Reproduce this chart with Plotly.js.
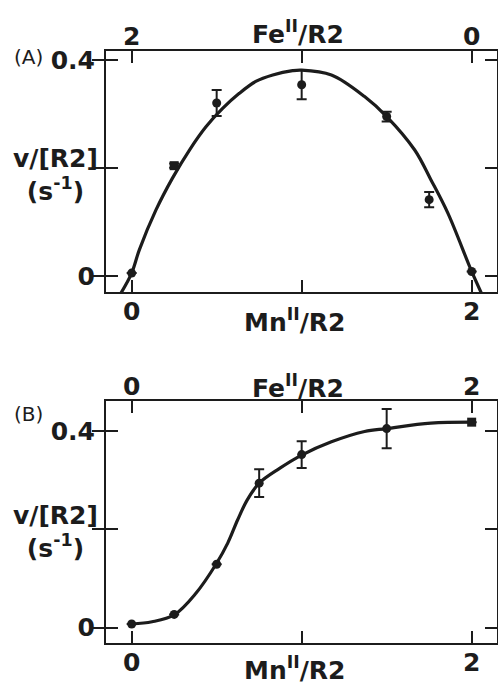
<!DOCTYPE html>
<html>
<head>
<meta charset="utf-8">
<script src="https://cdn.plot.ly/plotly-3.0.1.min.js"></script>
<style>
  body { margin: 0; background: #fff; }
  #chart { width: 498px; height: 684px; }
</style>
</head>
<body>
<div id="chart"></div>
<script>
// Panel A: measured points
const mnA = [0, 0.25, 0.5, 1.0, 1.5, 1.75, 2.0];
const vA = [0.005, 0.204, 0.32, 0.354, 0.295, 0.141, 0.008];
const errA = [0, 0.004, 0.024, 0.027, 0.009, 0.014, 0];
const symA = ['circle', 'square', 'circle', 'circle', 'circle', 'circle', 'circle'];

// Panel A: fitted curve
const fitXA = [-0.063, 0, 0.045, 0.143, 0.24, 0.34, 0.437, 0.535, 0.633, 0.73, 0.83, 0.947, 1.0,
  1.175, 1.37, 1.5, 1.665, 1.76, 1.86, 2.0, 2.057];
const fitYA = [-0.032, 0.005, 0.048, 0.122, 0.181, 0.233, 0.276, 0.31, 0.338, 0.36, 0.372, 0.38, 0.381,
  0.372, 0.332, 0.295, 0.233, 0.178, 0.116, 0.008, -0.032];

// Panel B: measured points
const mnB = [0, 0.25, 0.5, 0.75, 1.0, 1.5, 2.0];
const vB = [0.0075, 0.027, 0.129, 0.294, 0.352, 0.405, 0.418];
const errB = [0, 0, 0, 0.028, 0.027, 0.04, 0];
const symB = ['circle', 'circle', 'circle', 'circle', 'circle', 'circle', 'square'];

// Panel B: fitted curve
const fitXB = [0, 0.12, 0.25, 0.378, 0.496, 0.565, 0.623, 0.68, 0.75, 0.87, 1.0, 1.175, 1.37, 1.5, 1.76, 2.0];
const fitYB = [0.0075, 0.012, 0.026, 0.07, 0.129, 0.172, 0.219, 0.26, 0.294, 0.324, 0.351, 0.378, 0.399, 0.405, 0.416, 0.418];

// tick labels
const yTicks = [0, 0.2, 0.4];
const yTickText = ['0', '', '0.4'];
const xTicks = [0, 1, 2];
const xTickText = ['0', '', '2'];
const topTicks = [0, 2];
const topTickText = ['0', '2'];

const ink = '#1c1c1c';
const bold = { family: 'DejaVu Sans, Arial, sans-serif', size: 25, color: ink, weight: 'bold' };

const curve = (xs, ys, xa, ya) => ({
  x: xs, y: ys, xaxis: xa, yaxis: ya,
  type: 'scatter', mode: 'lines',
  line: { color: ink, width: 3.2, shape: 'spline', smoothing: 1 },
  hoverinfo: 'skip'
});
const points = (xs, ys, errs, syms, xa, ya) => ({
  x: xs, y: ys, xaxis: xa, yaxis: ya,
  type: 'scatter', mode: 'markers',
  marker: { color: ink, size: 9, symbol: syms },
  error_y: { type: 'data', array: errs, color: ink, thickness: 2, width: 5 },
  cliponaxis: false
});
// empty trace so the top (Fe) axis gets drawn
const topHolder = (xa, ya) => ({
  x: topTicks, y: [null, null], xaxis: xa, yaxis: ya,
  type: 'scatter', mode: 'markers', hoverinfo: 'skip'
});

const xRange = [-0.151, 2.149];

const bottomAxis = (yref) => ({
  anchor: yref, domain: [0, 1], range: xRange,
  tickvals: xTicks, ticktext: xTickText,
  ticks: 'inside', ticklen: 12, tickwidth: 2, tickcolor: ink,
  showline: true, linewidth: 2, linecolor: ink, mirror: 'allticks',
  showgrid: false, zeroline: false, tickfont: bold, ticklabelstandoff: -4
});
const leftAxis = (xref, dom, rng) => ({
  anchor: xref, domain: dom, range: rng,
  tickvals: yTicks, ticktext: yTickText,
  ticks: 'inside', ticklen: 12, tickwidth: 2, tickcolor: ink,
  showline: true, linewidth: 2, linecolor: ink, mirror: 'allticks',
  showgrid: false, zeroline: false, tickfont: bold, ticklabelstandoff: 4
});
const topAxis = (over, yref, rng) => ({
  overlaying: over, anchor: yref, side: 'top', range: rng,
  tickvals: topTicks, ticktext: topTickText,
  ticks: '', showline: false, showgrid: false, zeroline: false,
  tickfont: bold, ticklabelstandoff: 0
});

const ann = (text, x, y, size, weight) => ({
  text: text, xref: 'paper', yref: 'paper', x: x, y: y,
  xanchor: 'center', yanchor: 'middle', showarrow: false,
  font: { family: 'DejaVu Sans, Arial, sans-serif', size: size, color: ink, weight: weight }
});

const layout = {
  width: 498, height: 684,
  margin: { l: 106, r: 1, t: 0, b: 0 },
  paper_bgcolor: '#fff', plot_bgcolor: '#fff',
  showlegend: false,
  xaxis: bottomAxis('y'),
  yaxis: leftAxis('x', [0.5731, 0.9259], [-0.030, 0.417]),
  xaxis2: bottomAxis('y2'),
  yaxis2: leftAxis('x2', [0.0604, 0.4137], [-0.0305, 0.461]),
  xaxis3: topAxis('x', 'y', [2 - xRange[0], 2 - xRange[1]]),
  xaxis4: topAxis('x2', 'y2', xRange),
  annotations: [
    ann('(A)', -0.198, 0.9167, 20, 'normal'),
    ann('(B)', -0.198, 0.3947, 20, 'normal'),
    ann('v/[R2]<br>(s<sup>-1</sup>)', -0.128, 0.7442, 25, 'bold'),
    ann('v/[R2]<br>(s<sup>-1</sup>)', -0.128, 0.2222, 25, 'bold'),
    ann('Fe<sup>II</sup>/R2', 0.49, 1 - 32 / 684, 25, 'bold'),
    ann('Mn<sup>II</sup>/R2', 0.4834, 1 - 320 / 684, 25, 'bold'),
    ann('Fe<sup>II</sup>/R2', 0.49, 1 - 386 / 684, 25, 'bold'),
    ann('Mn<sup>II</sup>/R2', 0.4834, 1 - 668 / 684, 25, 'bold')
  ]
};

const traces = [
  curve(fitXA, fitYA, 'x', 'y'),
  points(mnA, vA, errA, symA, 'x', 'y'),
  topHolder('x3', 'y'),
  curve(fitXB, fitYB, 'x2', 'y2'),
  points(mnB, vB, errB, symB, 'x2', 'y2'),
  topHolder('x4', 'y2')
];

Plotly.newPlot('chart', traces, layout, { displayModeBar: false, staticPlot: true });
</script>
</body>
</html>
